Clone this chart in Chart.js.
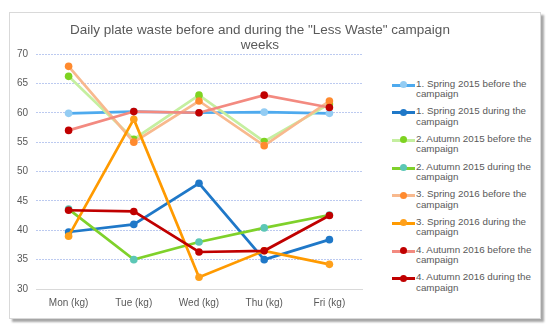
<!DOCTYPE html>
<html>
<head>
<meta charset="utf-8">
<script src="https://cdn.jsdelivr.net/npm/chart.js@4/dist/chart.umd.min.js"></script>
<style>
  html, body { margin: 0; padding: 0; background: #fff; }
  #wrap { position: relative; width: 550px; height: 331px; overflow: hidden; font-family: "Liberation Sans", Arial, sans-serif; }
  #frame { position: absolute; left: 9px; top: 12px; width: 530px; height: 305px; border: 1px solid #d9d9d9; box-shadow: 3px 3px 2px rgba(0,0,0,0.35); background: #fff; }
  #chart { position: absolute; left: 0; top: 0; }
  #title { position: absolute; left: 60px; width: 400px; top: 22px; text-align: center; font-size: 13.5px; line-height: 15px; color: #595959; }
  #legend { position: absolute; left: 392px; top: 79px; }
  .item { position: relative; height: 27.7px; }
  .sym { position: absolute; left: 0; top: 4.5px; width: 23px; height: 3px; }
  .dot { position: absolute; left: 8px; top: -2.5px; width: 7px; height: 7px; border-radius: 50%; }
  .txt { position: absolute; left: 24px; top: -0.5px; font-size: 9.8px; line-height: 10.5px; color: #595959; white-space: nowrap; }
</style>
</head>
<body>
<div id="wrap">
  <div id="frame"></div>
  <canvas id="chart" width="372" height="331"></canvas>
  <div id="title"></div>
  <div id="legend"></div>
</div>
<script>
// ---- data ----
const titleLines = ['Daily plate waste before and during the "Less Waste" campaign', 'weeks'];
const categories = ['Mon (kg)', 'Tue (kg)', 'Wed (kg)', 'Thu (kg)', 'Fri (kg)'];
const seriesNames = [
  ['1. Spring 2015 before the', 'campaign'],
  ['1. Spring 2015 during the', 'campaign'],
  ['2. Autumn 2015 before the', 'campaign'],
  ['2. Autumn 2015 during the', 'campaign'],
  ['3. Spring 2016 before the', 'campaign'],
  ['3. Spring 2016 during the', 'campaign'],
  ['4. Autumn 2016 before the', 'campaign'],
  ['4. Autumn 2016 during the', 'campaign']
];
const spring2015Before = [59.9, 60.2, 60.0, 60.1, 59.9];
const spring2015During = [39.7, 41.0, 48.0, 35.0, 38.4];
const autumn2015Before = [66.2, 55.5, 63.0, 55.1, 61.5];
const autumn2015During = [43.6, 35.0, 38.0, 40.4, 42.6];
const spring2016Before = [67.9, 55.0, 62.0, 54.4, 62.0];
const spring2016During = [39.0, 58.9, 32.0, 36.5, 34.2];
const autumn2016Before = [57.0, 60.2, 60.0, 63.0, 60.9];
const autumn2016During = [43.4, 43.2, 36.3, 36.5, 42.5];
const yTicks = [30, 35, 40, 45, 50, 55, 60, 65, 70];

// ---- styles ----
const lineColors  = ['#4eaaee', '#1f78c8', '#c5efa0', '#7fd12b', '#f8b98e', '#ff9a00', '#f38a80', '#c00000'];
const pointColors = ['#93ccf3', '#1f78c8', '#7ed321', '#5cc7b6', '#ff8a2e', '#ffa01a', '#c00000', '#c00000'];
const allSeries = [spring2015Before, spring2015During, autumn2015Before, autumn2015During,
                   spring2016Before, spring2016During, autumn2016Before, autumn2016During];

document.getElementById('title').innerHTML = titleLines.map(t => '<div>' + t.replace(/"/g, '&quot;') + '</div>').join('');

const datasets = allSeries.map((d, i) => ({
  label: seriesNames[i].join(' '),
  data: d,
  borderColor: lineColors[i],
  backgroundColor: pointColors[i],
  pointBackgroundColor: pointColors[i],
  pointBorderColor: pointColors[i],
  pointRadius: 3.8,
  pointBorderWidth: 0,
  borderWidth: 2.7,
  tension: 0,
  fill: false,
  order: allSeries.length - i
}));

const font = { family: '"Liberation Sans", Arial, sans-serif', size: 10 };

new Chart(document.getElementById('chart'), {
  type: 'line',
  data: { labels: categories, datasets },
  options: {
    responsive: false,
    animation: false,
    layout: { padding: { left: 0, top: 54, right: 10, bottom: 0 } },
    plugins: { legend: { display: false }, title: { display: false }, tooltip: { enabled: false } },
    scales: {
      x: {
        offset: true,
        grid: { display: false, drawTicks: false },
        border: { display: true, color: '#d9d9d9', width: 1 },
        ticks: { color: '#595959', font, padding: 8, maxRotation: 0 },
        afterFit: s => { s.height = 42; }
      },
      y: {
        min: 30, max: 70,
        afterBuildTicks: s => { s.ticks = yTicks.map(v => ({ value: v })); },
        grid: {
          drawTicks: false,
          color: c => (c.tick && c.tick.value === 30) ? 'rgba(0,0,0,0)' : '#bccaf0',
          lineWidth: 1
        },
        border: { display: false, dash: [2, 1] },
        ticks: { color: '#595959', font, padding: 8 },
        afterFit: s => { s.width = 36; }
      }
    }
  }
});

const legend = document.getElementById('legend');
seriesNames.forEach((lines, i) => {
  const item = document.createElement('div');
  item.className = 'item';
  item.innerHTML = '<div class="sym" style="background:' + lineColors[i] + '"><div class="dot" style="background:' + pointColors[i] + '"></div></div>' +
    '<div class="txt">' + lines.join('<br>') + '</div>';
  legend.appendChild(item);
});
</script>
</body>
</html>
